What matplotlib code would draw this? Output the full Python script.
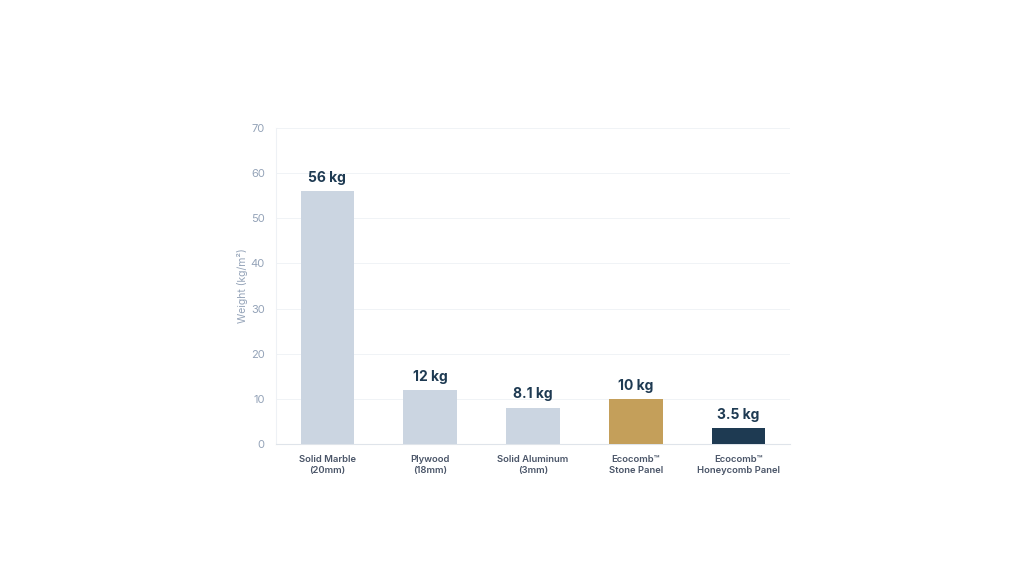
import matplotlib
matplotlib.use("Agg")
import matplotlib.pyplot as plt

# data
materials = ["Solid Marble\n(20mm)", "Plywood\n(18mm)", "Solid Aluminum\n(3mm)",
             "Ecocomb™\nStone Panel", "Ecocomb™\nHoneycomb Panel"]
weights = [56, 12, 8.1, 10, 3.5]
value_labels = ["56 kg", "12 kg", "8.1 kg", "10 kg", "3.5 kg"]
colors = ["#cbd5e1", "#cbd5e1", "#cbd5e1", "#c49f5a", "#1e3a52"]

plt.rcParams['font.family'] = ['Inter', 'Lato', 'DejaVu Sans']

fig = plt.figure(figsize=(10.24, 5.76), dpi=100)
ax = fig.add_axes([0.2695, 0.229, 0.502, 0.549])

x = range(len(materials))
ax.bar(x, weights, width=0.52, color=colors, zorder=3)

for i, (w, lab) in enumerate(zip(weights, value_labels)):
    ax.text(i, w + 1.4, lab, ha='center', va='bottom', fontsize=10,
            fontweight='bold', color='#1e3a52')

ax.set_xlim(-0.5, 4.5)
ax.set_ylim(0, 70)
ax.set_yticks(range(0, 71, 10))
ax.set_xticks(list(x))
ax.set_xticklabels(materials, fontsize=6.8, color='#4a5568', fontweight='semibold')
ax.tick_params(axis='y', labelsize=8, labelcolor='#94a3b8', length=0, pad=8)
ax.tick_params(axis='x', length=0, pad=8)
ax.set_ylabel("Weight (kg/m²)", fontsize=7.5, color='#94a3b8', labelpad=2)

ax.grid(axis='y', color='#eef1f5', linewidth=0.6, zorder=0)
for s in ['top', 'right']:
    ax.spines[s].set_visible(False)
ax.spines['left'].set_color('#eef1f5')
ax.spines['bottom'].set_color('#dfe4ea')

fig.savefig("out.png", dpi=100)
